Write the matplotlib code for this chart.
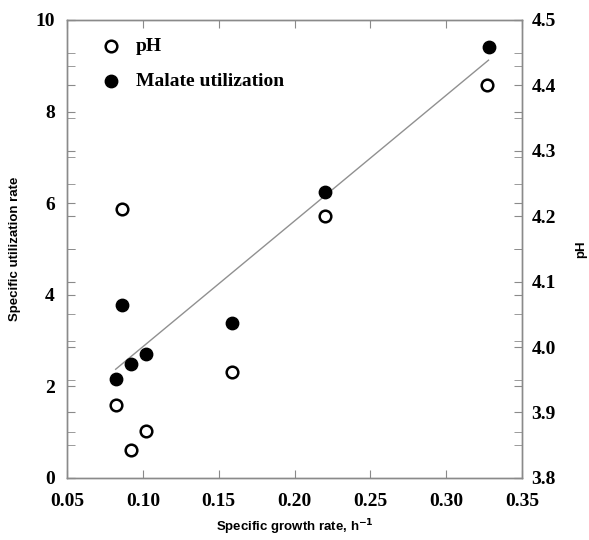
import numpy as np
import matplotlib.pyplot as plt
from matplotlib.ticker import MultipleLocator, FormatStrFormatter

# specific growth rate, h-1
mu_malate = [0.082, 0.086, 0.092, 0.102, 0.159, 0.220, 0.328]
malate = [2.16, 3.78, 2.49, 2.71, 3.38, 6.25, 9.42]

mu_ph = [0.082, 0.086, 0.092, 0.102, 0.159, 0.220, 0.327]
ph = [3.912, 4.211, 3.842, 3.872, 3.962, 4.200, 4.401]

serif = 'Liberation Serif'
sans = 'Liberation Sans'
spine_col = '#8a8a8a'
plt.rcParams['mathtext.default'] = 'bf'

fig = plt.figure(figsize=(5.89, 5.40), dpi=100)
ax = fig.add_axes([0.114, 0.115, 0.772, 0.848])
ax2 = ax.twinx()

# regression line through malate points
k, b = np.polyfit(mu_malate, malate, 1)
xl = np.array([min(mu_malate), max(mu_malate)])
ax.plot(xl, k * xl + b, color='#909090', lw=1.0, zorder=2)

ax.scatter(mu_malate, malate, s=80, color='black', zorder=3,
           label='Malate utilization')
ax2.scatter(mu_ph, ph, s=70, facecolor='white', edgecolor='black',
            linewidth=1.8, zorder=3, label='pH')

ax.set_xlim(0.05, 0.35)
ax.set_ylim(0, 10)
ax2.set_ylim(3.8, 4.5)

ax.xaxis.set_major_locator(MultipleLocator(0.05))
ax.xaxis.set_major_formatter(FormatStrFormatter('%.2f'))
ax.yaxis.set_major_locator(MultipleLocator(2))
ax.yaxis.set_minor_locator(MultipleLocator(1))
ax2.yaxis.set_major_locator(MultipleLocator(0.1))
ax2.yaxis.set_major_formatter(FormatStrFormatter('%.1f'))
ax2.yaxis.set_minor_locator(MultipleLocator(0.05))

for a in (ax, ax2):
    for sp in a.spines.values():
        sp.set_color(spine_col)
        sp.set_linewidth(1.0)
ax.tick_params(which='both', direction='in', top=True, right=True,
               color=spine_col, length=6)
ax.tick_params(axis='x', pad=11)
ax.tick_params(axis='y', pad=9)
ax2.tick_params(which='both', direction='in', left=True, color=spine_col,
                length=6, pad=7)

for lab in ax.get_xticklabels() + ax.get_yticklabels() + ax2.get_yticklabels():
    lab.set_fontfamily(serif)
    lab.set_fontweight('bold')
    lab.set_fontsize(14)

ax.set_xlabel('Specific growth rate, h$^{-1}$', fontfamily=sans,
              fontweight='bold', fontsize=9.5, labelpad=5)
ax.set_ylabel('Specific utilization rate', fontfamily=sans,
              fontweight='bold', fontsize=9.5, labelpad=10)
ax2.set_ylabel('pH', fontfamily=sans, fontweight='bold', fontsize=9.5,
               labelpad=14)

h1, l1 = ax2.get_legend_handles_labels()
h2, l2 = ax.get_legend_handles_labels()
ax2.legend(h1 + h2, l1 + l2, loc='upper left', frameon=False,
           prop={'family': serif, 'weight': 'bold', 'size': 14},
           bbox_to_anchor=(0.015, 1.0), labelspacing=0.9,
           handletextpad=0.3)

fig.savefig('out.png', dpi=100)
